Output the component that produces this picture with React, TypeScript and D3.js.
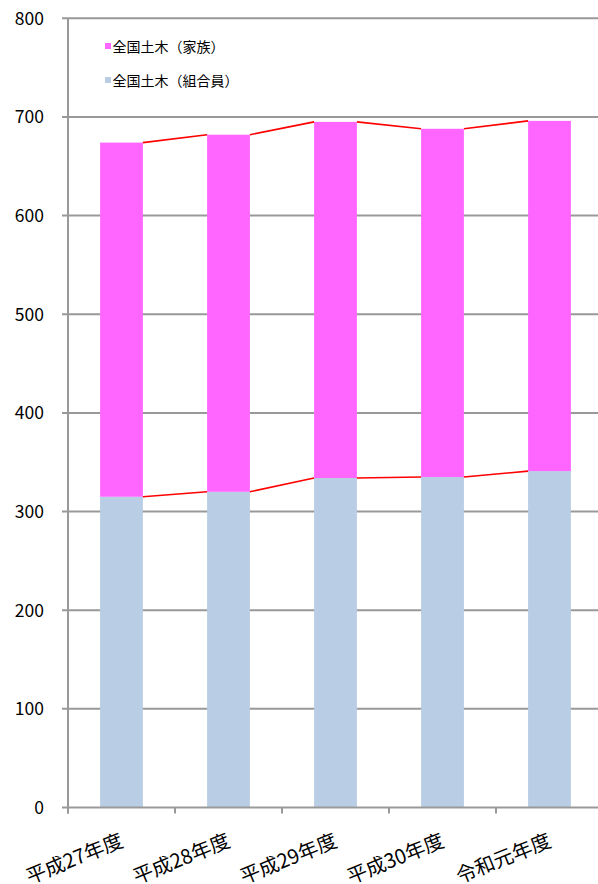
import React from "react";
import * as d3 from "d3";

const categories = ["平成27年度", "平成28年度", "平成29年度", "平成30年度", "令和元年度"];
const members = [315, 320, 334, 335, 341];
const families = [359, 362, 361, 353, 355];
const yTicks = [0, 100, 200, 300, 400, 500, 600, 700, 800];
const seriesNames = ["全国土木（家族）", "全国土木（組合員）"];
const seriesColors = ["#FF66FF", "#B9CDE5"];

const W = 598;
const H = 884;
const FONT = "'Noto Sans CJK JP', 'Noto Sans', sans-serif";

export default function App() {
  const x = d3.scaleBand<string>().domain(categories).range([68, 603]).paddingInner(0).paddingOuter(0);
  const y = d3.scaleLinear().domain([0, 800]).range([807.5, 18.3]);
  const barW = x.bandwidth() * 0.4;
  const barX = (c: string) => (x(c) as number) + (x.bandwidth() - barW) / 2;

  const totals = members.map((m, i) => m + families[i]);
  const axisColor = "#999999";

  // connector lines between the tops of adjacent stacked segments
  const connectors = (vals: number[]) =>
    vals.slice(0, -1).map((v, i) => ({
      x1: barX(categories[i]) + barW,
      y1: y(v),
      x2: barX(categories[i + 1]),
      y2: y(vals[i + 1]),
    }));

  return (
    <svg width={W} height={H} style={{ position: "absolute", left: 0, top: 0, background: "#fff" }}>
      {/* gridlines + y ticks */}
      {yTicks.map((t) => (
        <g key={t}>
          {t > 0 && (
            <line x1={62} x2={W} y1={y(t)} y2={y(t)} stroke={axisColor} strokeWidth={2} />
          )}
          <text
            x={44}
            y={y(t)}
            dy="0.36em"
            textAnchor="end"
            fontFamily={FONT}
            fontSize={17.5}
            fill="#000"
          >
            {t}
          </text>
        </g>
      ))}

      {/* stacked bars */}
      {categories.map((c, i) => (
        <g key={c}>
          <rect
            x={barX(c)}
            y={y(members[i])}
            width={barW}
            height={y(0) - y(members[i])}
            fill={seriesColors[1]}
          />
          <rect
            x={barX(c)}
            y={y(totals[i])}
            width={barW}
            height={y(members[i]) - y(totals[i])}
            fill={seriesColors[0]}
          />
        </g>
      ))}

      {/* series lines */}
      {[...connectors(members), ...connectors(totals)].map((s, i) => (
        <line key={i} {...s} stroke="#FF0000" strokeWidth={1.6} />
      ))}

      {/* y axis */}
      <line x1={68} x2={68} y1={y(800)} y2={y(0) + 6} stroke={axisColor} strokeWidth={2} />
      {/* x axis */}
      <line x1={62} x2={W} y1={y(0)} y2={y(0)} stroke={axisColor} strokeWidth={2} />
      {categories.map((c) => (
        <line
          key={"t" + c}
          x1={x(c) as number}
          x2={x(c) as number}
          y1={y(0)}
          y2={y(0) + 6}
          stroke={axisColor}
          strokeWidth={2}
        />
      ))}

      {/* category labels */}
      {categories.map((c) => {
        const cx = (x(c) as number) + x.bandwidth() / 2 + 3;
        const cy = 846;
        return (
          <text
            key={"l" + c}
            x={cx}
            y={cy}
            textAnchor="end"
            transform={`rotate(-22, ${cx}, ${cy})`}
            fontFamily={FONT}
            fontSize={20}
            fill="#000"
          >
            {c}
          </text>
        );
      })}

      {/* legend */}
      {seriesNames.map((n, i) => (
        <g key={n} transform={`translate(105, ${46 + i * 34})`}>
          <rect x={0} y={-3} width={6} height={6} fill={seriesColors[i]} />
          <text x={7.5} y={1} dy="0.35em" fontFamily={FONT} fontSize={14} fill="#000">
            {n}
          </text>
        </g>
      ))}
    </svg>
  );
}
